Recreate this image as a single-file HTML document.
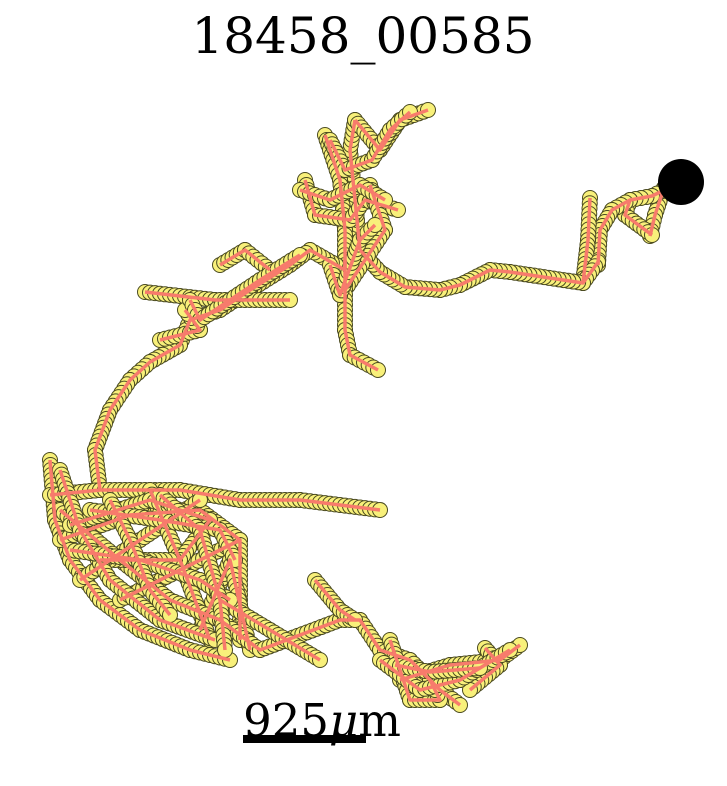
<!DOCTYPE html>
<html><head><meta charset="utf-8">
<style>
html,body{margin:0;padding:0;background:#fff;}
svg{display:block;}
</style></head>
<body>
<svg id="chart" width="727" height="786" viewBox="0 0 727 786" xmlns="http://www.w3.org/2000/svg">
  <text x="363" y="53" text-anchor="middle" font-family="'DejaVu Serif','Liberation Serif',serif" font-size="50">18458_00585</text>
  <g id="nodes"></g>
  <g id="edges"></g>
  <circle cx="681" cy="182" r="23" fill="#000"/>
  <g>
    <text x="322" y="736" text-anchor="middle" font-family="'DejaVu Serif','Liberation Serif',serif" font-size="45">925<tspan font-style="italic">μ</tspan>m</text>
    <rect x="243" y="735" width="123" height="8" fill="#000"/>
  </g>
</svg>
<script>
// Scale bar: 925 µm spans 123 px. Branch coordinates are traced then converted to µm.
const scaleBarMicrons = 925;
const scaleBarPixels = 123;
const umPerPx = scaleBarMicrons / scaleBarPixels;
function xAxis(v){ return v / umPerPx; }
function yAxis(v){ return v / umPerPx; }
const branchA = [[681,182],[664,188],[655,215],[650,236]];
const branchB = [[681,182],[652,196],[630,200],[625,215],[652,235]];
const branchC = [[630,200],[612,210],[600,230],[598,265]];
const branchD = [[590,198],[588,240],[583,283]];
const branchE = [[598,262],[583,283],[510,272],[490,270],[460,285],[440,290],[405,287],[380,272],[360,250]];
const branchF = [[360,250],[355,200],[350,150],[355,120]];
const branchG = [[325,135],[340,180],[345,230],[345,270]];
const branchH = [[355,120],[380,150],[400,120],[428,110]];
const branchI = [[305,180],[315,215],[350,220],[365,200],[398,210]];
const branchJ = [[370,185],[385,230],[345,290]];
const branchK = [[345,260],[345,330],[350,355],[378,370]];
const branchL = [[345,270],[310,250],[290,265],[250,290],[220,310],[190,320],[180,345],[150,362],[130,380],[110,410],[95,450],[100,490]];
const branchM = [[145,292],[215,300],[290,300]];
const branchN = [[220,265],[245,250],[270,270]];
const branchO = [[160,340],[200,330],[185,310]];
const branchP = [[50,460],[55,520],[70,560],[100,600],[140,630],[190,650],[230,660]];
const branchQ = [[50,495],[100,490],[180,490],[240,500],[300,500],[380,510]];
const branchR = [[60,540],[130,515],[200,510],[240,540]];
const branchS = [[80,580],[140,540],[200,500]];
const branchT = [[120,600],[180,570],[240,540],[240,640]];
const branchU = [[200,630],[230,560],[250,650]];
const branchV = [[150,490],[180,560],[210,640]];
const branchW = [[60,510],[120,560],[170,600],[220,620],[260,650],[340,620],[360,620],[380,650],[410,660],[440,690],[460,705]];
const branchX = [[315,580],[340,610],[355,620]];
const branchY = [[400,680],[450,665],[500,660],[520,645]];
const branchZ = [[390,640],[410,700],[440,700],[430,680]];
const branchAA = [[220,600],[270,630],[320,660]];
const branchAB = [[70,525],[150,500],[210,520],[180,560],[100,560]];
const branchAC = [[485,648],[500,665],[470,690]];
const branchAD = [[330,140],[345,170],[372,160],[390,130],[410,112]];
const branchAE = [[300,190],[330,200],[360,185],[385,200]];
const branchAF = [[330,265],[340,295],[360,240],[375,225]];
const branchAG = [[190,300],[200,320],[230,300],[260,280],[300,255]];
const branchAH = [[60,470],[80,530],[110,580],[160,620],[215,640]];
const branchAI = [[90,510],[160,520],[220,530],[235,560]];
const branchAJ = [[70,550],[140,560],[200,580],[230,600]];
const branchAK = [[110,500],[130,540],[150,590],[170,615]];
const branchAL = [[160,495],[200,530],[220,600],[225,650]];
const branchAM = [[380,660],[420,690],[460,680],[510,650]];
const branchAN = [[395,665],[430,672],[480,668]];
const branches = [branchA,branchB,branchC,branchD,branchE,branchF,branchG,branchH,branchI,branchJ,branchK,branchL,branchM,branchN,branchO,branchP,branchQ,branchR,branchS,branchT,branchU,branchV,branchW,branchX,branchY,branchZ,branchAA,branchAB,branchAC,branchAD,branchAE,branchAF,branchAG,branchAH,branchAI,branchAJ,branchAK,branchAL,branchAM,branchAN]
  .map(b => b.map(p => [p[0]*umPerPx, p[1]*umPerPx]));

const NS = "http://www.w3.org/2000/svg";
const gN = document.getElementById('nodes');
const gE = document.getElementById('edges');
branches.forEach((b) => {
  const pts = b.map(p => [xAxis(p[0]), yAxis(p[1])]);
  const pl = document.createElementNS(NS, 'polyline');
  
  
  pl.setAttribute('points', pts.map(p => p.join(',')).join(' '));
  pl.setAttribute('fill', 'none');
  pl.setAttribute('stroke', '#f77b6c');
  pl.setAttribute('stroke-width', '3.5');
  pl.setAttribute('stroke-linejoin', 'round');
  gE.appendChild(pl);
  for (let i = 0; i < pts.length - 1; i++) {
    const [x0, y0] = pts[i], [x1, y1] = pts[i+1];
    const d = Math.hypot(x1-x0, y1-y0);
    const n = Math.max(1, Math.round(d / 5));
    for (let k = 0; k <= n; k++) {
      const t = k / n;
      const c = document.createElementNS(NS, 'circle');
      
      
      c.setAttribute('cx', x0 + (x1-x0)*t);
      c.setAttribute('cy', y0 + (y1-y0)*t);
      c.setAttribute('r', '7.5');
      c.setAttribute('fill', '#f8f07a');
      c.setAttribute('stroke', '#4a4a20');
      c.setAttribute('stroke-width', '1');
      gN.appendChild(c);
    }
  }
});
</script>
</body></html>
